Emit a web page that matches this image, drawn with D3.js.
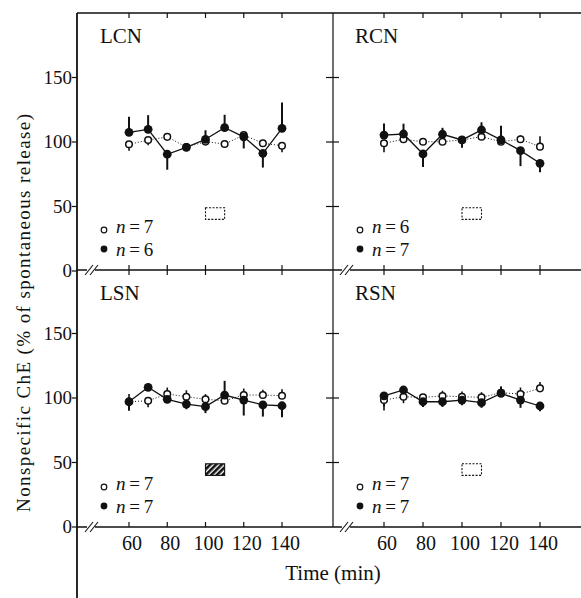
<!DOCTYPE html>
<html>
<head>
<meta charset="utf-8">
<script src="https://cdn.jsdelivr.net/npm/d3@7"></script>
<style>
body { margin: 0; background: #fff; }
svg text { font-family: "Liberation Serif", "Times New Roman", Times, serif; fill: #111; }
</style>
</head>
<body>
<div id="chart"></div>
<script>
// data (time in min, ChE in % of spontaneous release)
var times = [60, 70, 80, 90, 100, 110, 120, 130, 140];
var xTicks = [60, 80, 100, 120, 140];
var yTicks = [0, 50, 100, 150];
var panelNames = ["LCN", "RCN", "LSN", "RSN"];
var openN = [7, 6, 7, 7];
var filledN = [6, 7, 7, 7];

// signed error: positive drawn upward, negative drawn downward
var lcnFilled = [107.5, 109.8, 90.5, 95.9, 102.1, 111.1, 104, 91.2, 110.6];
var lcnFilledErr = [12, 11, -12, 0, 7, 10, -9, -11, 20];
var lcnOpen = [98.2, 101.5, 104, 96, 100.3, 98.4, 105.4, 99, 97.1];
var lcnOpenErr = [-5, -4, 0, 0, 0, -3, 0, 0, -5];

var rcnFilled = [105.4, 106.2, 90.7, 106, 101.6, 109.3, 101.6, 93.3, 83.5];
var rcnFilledErr = [9, 8, -10, 5, -6, 6, 11, -12, -7];
var rcnOpen = [99, 102.1, 100.2, 100.2, 101.6, 104.1, 100.2, 102.1, 96.4];
var rcnOpenErr = [-7, 0, 0, 0, 0, 0, 0, 3, 8];

var lsnFilled = [97.1, 108.3, 99, 95.3, 93.3, 102.3, 98.4, 94.6, 94];
var lsnFilledErr = [-7, 3, 4, -4, -5, 11, -12, -9, -9];
var lsnOpen = [97.1, 97.9, 103.1, 101, 99, 97.9, 102.3, 102.3, 101.8];
var lsnOpenErr = [6, -5, 5, 5, 4, 0, 5, 4, 5];

var rsnFilled = [101.6, 106.2, 97.1, 97.1, 98.4, 96.4, 103.6, 98.4, 93.8];
var rsnFilledErr = [-8, 3, -4, -4, -4, -4, 5, -6, -4];
var rsnOpen = [98.4, 101, 100.5, 101.6, 101, 100.5, 104.1, 103.1, 107.5];
var rsnOpenErr = [-8, -5, 0, 4, 4, 4, 5, 5, 5];

var boxTime = [100, 110];
var boxValue = [40, 49];

var filledAll = [lcnFilled, rcnFilled, lsnFilled, rsnFilled];
var filledErrAll = [lcnFilledErr, rcnFilledErr, lsnFilledErr, rsnFilledErr];
var openAll = [lcnOpen, rcnOpen, lsnOpen, rsnOpen];
var openErrAll = [lcnOpenErr, rcnOpenErr, lsnOpenErr, rsnOpenErr];

var W = 581, H = 598;
var svg = d3.select("#chart").append("svg")
  .attr("width", W).attr("height", H);

var defs = svg.append("defs");
var pat = defs.append("pattern").attr("id", "hatch")
  .attr("patternUnits", "userSpaceOnUse").attr("width", 4).attr("height", 4)
  .attr("patternTransform", "rotate(45)");
pat.append("rect").attr("width", 4).attr("height", 4).attr("fill", "#fff");
pat.append("rect").attr("width", 2.6).attr("height", 4).attr("fill", "#111");

var leftX = 77, midX = 333, rightX = 581;
var rowTop = [13, 270];

var xLeft = d3.scaleLinear().domain([60, 140]).range([129, 282]);
var xRight = d3.scaleLinear().domain([60, 140]).range([384, 540]);
var yRows = [
  d3.scaleLinear().domain([0, 200]).range([271, 13]),
  d3.scaleLinear().domain([0, 200]).range([527, 269])
];

var ink = "#111";

// frame lines
function hline(y, x1, x2) {
  svg.append("line").attr("x1", x1).attr("x2", x2).attr("y1", y).attr("y2", y)
    .attr("stroke", ink).attr("stroke-width", 1.5);
}
hline(13, leftX, rightX);
hline(270, leftX, rightX);
hline(527, leftX, rightX);
svg.append("line").attr("x1", leftX).attr("x2", leftX).attr("y1", 13).attr("y2", H)
  .attr("stroke", ink).attr("stroke-width", 1.8);
svg.append("line").attr("x1", midX).attr("x2", midX).attr("y1", 13).attr("y2", 527)
  .attr("stroke", ink).attr("stroke-width", 1.2);

// x ticks on the horizontal frame lines
[xLeft, xRight].forEach(function(x) {
  xTicks.forEach(function(t) {
    svg.append("line").attr("x1", x(t)).attr("x2", x(t)).attr("y1", 13).attr("y2", 18)
      .attr("stroke", ink).attr("stroke-width", 1.2);
    svg.append("line").attr("x1", x(t)).attr("x2", x(t)).attr("y1", 265).attr("y2", 275)
      .attr("stroke", ink).attr("stroke-width", 1.2);
    svg.append("line").attr("x1", x(t)).attr("x2", x(t)).attr("y1", 522).attr("y2", 527)
      .attr("stroke", ink).attr("stroke-width", 1.2);
    svg.append("text").attr("x", x(t) + 3).attr("y", 550)
      .attr("text-anchor", "middle").attr("font-size", 20).text(t);
  });
});

// axis breaks
[[92, 270], [347, 270], [92, 527], [347, 527]].forEach(function(b) {
  svg.append("rect").attr("x", b[0] - 5).attr("y", b[1] - 2).attr("width", 8).attr("height", 4)
    .attr("fill", "#fff");
  [-3, 2].forEach(function(dx) {
    svg.append("line")
      .attr("x1", b[0] + dx - 4).attr("y1", b[1] + 5)
      .attr("x2", b[0] + dx + 4).attr("y2", b[1] - 5)
      .attr("stroke", ink).attr("stroke-width", 1.1);
  });
});

// y ticks and labels
yRows.forEach(function(y) {
  yTicks.forEach(function(v) {
    svg.append("line").attr("x1", leftX - 5).attr("x2", leftX).attr("y1", y(v)).attr("y2", y(v))
      .attr("stroke", ink).attr("stroke-width", 1.2);
    if (v > 0) {
      svg.append("line").attr("x1", midX - 7).attr("x2", midX + 6).attr("y1", y(v)).attr("y2", y(v))
        .attr("stroke", ink).attr("stroke-width", 1.2);
    }
    svg.append("text").attr("x", leftX - 5).attr("y", y(v) + 6)
      .attr("text-anchor", "end").attr("font-size", 19).text(v);
  });
});

// axis titles
svg.append("text")
  .attr("transform", "translate(30,313) rotate(-90)")
  .attr("text-anchor", "middle").attr("font-size", 19)
  .attr("textLength", 398).attr("lengthAdjust", "spacing")
  .text("Nonspecific ChE (% of spontaneous release)");
svg.append("text").attr("x", 333).attr("y", 580)
  .attr("text-anchor", "middle").attr("font-size", 21).text("Time (min)");

// panels
panelNames.forEach(function(name, i) {
  var x = (i % 2 === 0) ? xLeft : xRight;
  var row = Math.floor(i / 2);
  var y = yRows[row];
  var g = svg.append("g");
  var lx = (i % 2 === 0) ? 100 : 355;
  var top = rowTop[row];

  g.append("text").attr("x", lx).attr("y", top + 30)
    .attr("font-size", 21).text(name);

  // treatment box
  g.append("rect")
    .attr("x", x(boxTime[0])).attr("y", y(boxValue[1]))
    .attr("width", x(boxTime[1]) - x(boxTime[0]))
    .attr("height", y(boxValue[0]) - y(boxValue[1]))
    .attr("fill", name === "LSN" ? "url(#hatch)" : "none")
    .attr("stroke", ink).attr("stroke-width", 1.1)
    .attr("stroke-dasharray", name === "LSN" ? null : "2,1.5");

  var filled = filledAll[i], filledErr = filledErrAll[i];
  var open = openAll[i], openErr = openErrAll[i];

  var line = d3.line()
    .x(function(d, k) { return x(times[k]); })
    .y(function(d) { return y(d); });

  g.append("path").datum(open).attr("d", line)
    .attr("fill", "none").attr("stroke", ink).attr("stroke-width", 1)
    .attr("stroke-dasharray", "1,2");
  g.append("path").datum(filled).attr("d", line)
    .attr("fill", "none").attr("stroke", ink).attr("stroke-width", 1.3);

  // error bars
  g.selectAll(".eo").data(open).enter().append("line")
    .attr("x1", function(d, k) { return x(times[k]); })
    .attr("x2", function(d, k) { return x(times[k]); })
    .attr("y1", function(d) { return y(d); })
    .attr("y2", function(d, k) { return y(d + openErr[k]); })
    .attr("stroke", ink).attr("stroke-width", 1.6);
  g.selectAll(".ef").data(filled).enter().append("line")
    .attr("x1", function(d, k) { return x(times[k]); })
    .attr("x2", function(d, k) { return x(times[k]); })
    .attr("y1", function(d) { return y(d); })
    .attr("y2", function(d, k) { return y(d + filledErr[k]); })
    .attr("stroke", ink).attr("stroke-width", 2);

  g.selectAll(".po").data(open).enter().append("circle")
    .attr("cx", function(d, k) { return x(times[k]); })
    .attr("cy", function(d) { return y(d); })
    .attr("r", 3.3).attr("fill", "#fff").attr("stroke", ink).attr("stroke-width", 1.5);
  g.selectAll(".pf").data(filled).enter().append("circle")
    .attr("cx", function(d, k) { return x(times[k]); })
    .attr("cy", function(d) { return y(d); })
    .attr("r", 4.4).attr("fill", ink);

  // legend
  var mx = (i % 2 === 0) ? 104 : 360;
  g.append("circle").attr("cx", mx).attr("cy", top + 217).attr("r", 2.8)
    .attr("fill", "#fff").attr("stroke", ink).attr("stroke-width", 1.2);
  g.append("circle").attr("cx", mx).attr("cy", top + 236).attr("r", 3.4).attr("fill", ink);
  var t1 = g.append("text").attr("x", mx + 12).attr("y", top + 220).attr("font-size", 19);
  t1.append("tspan").attr("font-style", "italic").text("n");
  t1.append("tspan").text("\u2009=\u2009" + openN[i]);
  var t2 = g.append("text").attr("x", mx + 12).attr("y", top + 243).attr("font-size", 19);
  t2.append("tspan").attr("font-style", "italic").text("n");
  t2.append("tspan").text("\u2009=\u2009" + filledN[i]);
});
</script>
</body>
</html>
